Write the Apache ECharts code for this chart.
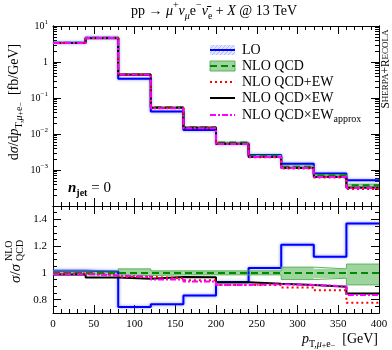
<!DOCTYPE html>
<html><head><meta charset="utf-8">
<script src="https://cdn.jsdelivr.net/npm/echarts@6/dist/echarts.min.js"></script>
<style>html,body{margin:0;padding:0;background:#fff}#c{width:392px;height:350px}</style>
</head><body><div id="c"></div>
<script>
// ---- data ----
const binEdges = [0, 40, 80, 120, 160, 200, 240, 280, 320, 360, 400];
// NLO QCD absolute [fb/GeV]
const nloQcd = [3.4, 4.7, 0.46, 0.055, 0.0155, 0.0058, 0.0025, 0.00124, 0.00071, 0.00038];
// NLO QCD uncertainty band (ratio to NLO QCD)
const nloQcdBandLo = [0.985, 0.985, 0.98, 0.985, 0.985, 0.985, 0.985, 0.95, 0.96, 0.91];
const nloQcdBandHi = [1.015, 1.015, 1.03, 1.015, 1.015, 1.015, 1.015, 1.043, 1.03, 1.066];
// ratios to NLO QCD
const ratioLO = [1.015, 1.01, 0.745, 0.765, 0.83, 0.93, 1.036, 1.21, 1.12, 1.37];
const ratioQcdPlusEw = [0.995, 0.985, 0.97, 0.96, 0.945, 0.91, 0.91, 0.89, 0.87, 0.776];
const ratioQcdTimesEw = [0.987, 0.966, 0.956, 0.97, 0.967, 0.93, 0.918, 0.91, 0.897, 0.845];
const ratioQcdTimesEwApprox = [0.99, 0.98, 0.972, 0.95, 0.935, 0.91, 0.915, 0.91, 0.90, 0.835];
// axis ticks
const logMajorTicks = [1e-4, 1e-3, 1e-2, 1e-1, 1, 10];
const logTickLabels = [10, 1, 0.1, 0.01, 0.001];
const ratioMajorTicks = [0.8, 1, 1.2, 1.4];
const ratioLabels = ['0.8', '1', '1.2', '1.4'];
const legendNames = ['LO', 'NLO QCD', 'NLO QCD+EW', 'NLO QCD×EW', 'NLO QCD×EW{sub|approx}'];

// ---- helpers ----
const FONT = 'Liberation Serif';
const logMinorTicks = [];
for (let d = -4; d <= 0; d++) for (let k = 2; k <= 9; k++) logMinorTicks.push(k * Math.pow(10, d));
const ratioMinorTicks = [];
for (let i = 14; i <= 30; i++) { const v = +(i * 0.05).toFixed(2); if (!ratioMajorTicks.some(m => Math.abs(m - v) < 1e-6)) ratioMinorTicks.push(v); }

function stepData(vals) {
  const d = vals.map((v, i) => [binEdges[i], v]);
  d.push([binEdges[binEdges.length - 1], vals[vals.length - 1]]);
  return d;
}
const times = (a, b) => a.map((v, i) => v * b[i]);
const ones = nloQcd.map(() => 1);

const C = { lo: '#0000ff', nlo: '#008a00', red: '#ff0000', blk: '#000000', mag: '#ff00ff', band: '#9ed49e', bandEdge: '#5fb35f' };

function xAx(grid, pos, labels) {
  return {
    type: 'value', gridIndex: grid, position: pos, min: 0, max: 400, interval: 50,
    axisLine: { show: true, onZero: false, lineStyle: { color: '#000', width: 1 } },
    axisTick: { show: true, inside: true, length: 8, lineStyle: { color: '#000' } },
    minorTick: { show: true, splitNumber: 5, length: 4, lineStyle: { color: '#000' } },
    splitLine: { show: false },
    axisLabel: labels ? { show: true, fontFamily: FONT, fontSize: 11, color: '#000', margin: 6 } : { show: false }
  };
}
function yLog(pos, ticks, len, labels) {
  return {
    type: 'log', logBase: 10, gridIndex: 0, position: pos, min: 1e-4, max: 10,
    axisLine: { show: true, onZero: false, lineStyle: { color: '#000', width: 1 } },
    axisTick: { show: true, inside: true, length: len, customValues: ticks, lineStyle: { color: '#000' } },
    splitLine: { show: false }, minorTick: { show: false },
    axisLabel: labels ? {
      show: true, customValues: logTickLabels, fontFamily: FONT, fontSize: 10, color: '#000', margin: 5,
      formatter: v => { const e = Math.round(Math.log10(v)); return e === 0 ? '{n|1}' : '{n|10}{sup|' + (e < 0 ? '−' + (-e) : e) + '}'; },
      rich: { n: { fontFamily: FONT, fontSize: 10, lineHeight: 14 }, sup: { fontFamily: FONT, fontSize: 7, lineHeight: 8, verticalAlign: 'top' } }
    } : { show: false }
  };
}
function yRat(pos, ticks, len, labels) {
  return {
    type: 'value', gridIndex: 1, position: pos, min: 0.7, max: 1.5,
    axisLine: { show: true, onZero: false, lineStyle: { color: '#000', width: 1 } },
    axisTick: { show: true, inside: true, length: len, customValues: ticks, lineStyle: { color: '#000' } },
    splitLine: { show: false }, minorTick: { show: false },
    axisLabel: labels ? {
      show: true, customValues: ratioMajorTicks, fontFamily: FONT, fontSize: 11, color: '#000', margin: 6,
      formatter: v => ratioLabels[ratioMajorTicks.findIndex(m => Math.abs(m - v) < 1e-6)] || ''
    } : { show: false }
  };
}

function stepLine(name, vals, xi, yi, color, width, dash, extra) {
  return Object.assign({
    name, type: 'line', xAxisIndex: xi, yAxisIndex: yi, data: stepData(vals), step: 'end',
    symbol: 'none', silent: true, animation: false,
    lineStyle: { color, width, type: dash || 'solid', cap: 'butt' }
  }, extra || {});
}
function bandSeries(lo, hi, xi, yi) {
  return {
    type: 'custom', xAxisIndex: xi, yAxisIndex: yi, silent: true, animation: false,
    data: lo.map((v, i) => [binEdges[i], binEdges[i + 1], v, hi[i]]),
    encode: { x: [0, 1], y: [2, 3] },
    renderItem: (params, api) => {
      const p0 = api.coord([api.value(0), api.value(3)]);
      const p1 = api.coord([api.value(1), api.value(2)]);
      return { type: 'rect', shape: { x: p0[0], y: p0[1], width: p1[0] - p0[0], height: p1[1] - p0[1] }, style: { fill: C.band } };
    }
  };
}
function panelSeries(base, xi, yi) {
  const lo = times(base, ratioLO), nlo = times(base, ones);
  return [
    stepLine('LO', lo, xi, yi, C.lo, 2, 'solid', { lineStyle: { color: C.lo, width: 2, shadowBlur: 3, shadowColor: 'rgba(110,130,255,0.9)' } }),
    bandSeries(times(base, nloQcdBandLo), times(base, nloQcdBandHi), xi, yi),
    stepLine('bandLo', times(base, nloQcdBandLo), xi, yi, C.bandEdge, 1),
    stepLine('bandHi', times(base, nloQcdBandHi), xi, yi, C.bandEdge, 1),
    stepLine('NLO QCD', nlo, xi, yi, C.nlo, 2, [7, 4]),
    stepLine('NLO QCD×EW', times(base, ratioQcdTimesEw), xi, yi, C.blk, 2),
    stepLine('NLO QCD+EW', times(base, ratioQcdPlusEw), xi, yi, C.red, 2, [2, 3]),
    stepLine('NLO QCD×EW approx', times(base, ratioQcdTimesEwApprox), xi, yi, C.mag, 2, [6, 2, 2, 2])
  ];
}

function mkRich(fs) {
  const s = Math.round(fs * 0.68);
  return {
    r: { fontFamily: FONT, fontSize: fs, lineHeight: fs + 7 },
    i: { fontFamily: FONT, fontSize: fs, lineHeight: fs + 7, fontStyle: 'italic' },
    sup: { fontFamily: FONT, fontSize: s, lineHeight: s + 2, verticalAlign: 'top' },
    sub: { fontFamily: FONT, fontSize: s, lineHeight: s + 2, verticalAlign: 'bottom' },
    isub: { fontFamily: FONT, fontSize: s, lineHeight: s + 2, verticalAlign: 'bottom', fontStyle: 'italic' },
    ssup: { fontFamily: FONT, fontSize: s - 2, lineHeight: fs + 4, verticalAlign: 'bottom' }
  };
}
function text(x, y, str, opt) {
  opt = opt || {};
  return {
    type: 'text', x, y, rotation: opt.rot || 0, z: 100, silent: true,
    style: { text: str, x: 0, y: 0, align: opt.align || 'center', verticalAlign: 'middle', fill: '#000', rich: opt.rich || mkRich(14), fontFamily: FONT, fontSize: 14 }
  };
}

// legend
const legX0 = 210, legX1 = 235, legTX = 242, legY = [50, 66, 82, 98, 115];
const legendRich = {
  r: { fontFamily: FONT, fontSize: 14, lineHeight: 18 },
  sub: { fontFamily: FONT, fontSize: 10, lineHeight: 11, verticalAlign: 'bottom' }
};
const hatch = [];
for (let k = -10; k < 25; k += 4) {
  hatch.push({ type: 'line', z: 99, silent: true, shape: { x1: legX0 + k, y1: legY[0] + 5, x2: legX0 + k + 10, y2: legY[0] - 5 }, style: { stroke: 'rgba(120,140,255,0.6)', lineWidth: 0.8 } });
}
const legendGraphics = [
  { type: 'rect', z: 98, silent: true, shape: { x: legX0, y: legY[0] - 5, width: legX1 - legX0, height: 10 }, style: { fill: 'rgba(200,205,255,0.5)' } },
  { type: 'group', z: 99, silent: true, clipPath: { type: 'rect', shape: { x: legX0, y: legY[0] - 5, width: legX1 - legX0, height: 10 } }, children: hatch },
  { type: 'line', z: 100, silent: true, shape: { x1: legX0, y1: legY[0], x2: legX1, y2: legY[0] }, style: { stroke: C.lo, lineWidth: 2 } },
  { type: 'rect', z: 98, silent: true, shape: { x: legX0, y: legY[1] - 5, width: legX1 - legX0, height: 10 }, style: { fill: C.band, stroke: C.bandEdge, lineWidth: 1 } },
  { type: 'line', z: 100, silent: true, shape: { x1: legX0, y1: legY[1], x2: legX1, y2: legY[1] }, style: { stroke: C.nlo, lineWidth: 2, lineDash: [7, 4] } },
  { type: 'line', z: 100, silent: true, shape: { x1: legX0, y1: legY[2], x2: legX1, y2: legY[2] }, style: { stroke: C.red, lineWidth: 2, lineDash: [2, 3] } },
  { type: 'line', z: 100, silent: true, shape: { x1: legX0, y1: legY[3], x2: legX1, y2: legY[3] }, style: { stroke: C.blk, lineWidth: 2 } },
  { type: 'line', z: 100, silent: true, shape: { x1: legX0, y1: legY[4], x2: legX1, y2: legY[4] }, style: { stroke: C.mag, lineWidth: 2, lineDash: [6, 2, 2, 2] } }
];
legendNames.forEach((n, i) => {
  const s = n.replace(/^([^{]+)/, '{r|$1}');
  legendGraphics.push(text(legTX, legY[i], s, { align: 'left', rich: legendRich }));
});

const scRich = {
  b: { fontFamily: FONT, fontSize: 11.5, lineHeight: 14 },
  s: { fontFamily: FONT, fontSize: 9, lineHeight: 14 }
};
const smallRich = { t: { fontFamily: FONT, fontSize: 10, lineHeight: 12 } };
const sigRich = { i: { fontFamily: FONT, fontSize: 15, lineHeight: 18, fontStyle: 'italic' }, r: { fontFamily: FONT, fontSize: 15, lineHeight: 18 } };

const graphics = legendGraphics.concat([
  text(214, 11, '{r|pp → }{i|μ}{sup|+}{i|ν}{isub|μ}{r|e}{sup|−}{i|ν̄}{sub|e}{r| + }{i|X}{r| @ 13 TeV}'),
  text(14, 102, '{r|d}{i|σ}{r|/d}{i|p}{sub|T,}{isub|μ}{ssup|+}{sub|e}{ssup|−}{r|  [fb/GeV]}', { rot: Math.PI / 2 }),
  // σ / σ^NLO_QCD with stacked super/subscript
  text(16, 283, '{i|σ}{r|/}{i|σ}', { rot: Math.PI / 2, align: 'left', rich: sigRich }),
  text(9, 261, '{t|NLO}', { rot: Math.PI / 2, align: 'left', rich: smallRich }),
  text(20, 261, '{t|QCD}', { rot: Math.PI / 2, align: 'left', rich: smallRich }),
  text(378, 339, '{i|p}{sub|T,}{isub|μ}{ssup|+}{sub|e}{ssup|−}{r|  [GeV]}', { align: 'right' }),
  text(386, 69, '{b|S}{s|HERPA}{b|+R}{s|ECOLA}', { rot: Math.PI / 2, rich: scRich }),
  text(68, 188, '{n|n}{j|jet}{e| = 0}', {
    align: 'left', rich: {
      n: { fontFamily: FONT, fontSize: 15, lineHeight: 20, fontStyle: 'italic', fontWeight: 'bold' },
      j: { fontFamily: FONT, fontSize: 10, lineHeight: 11, verticalAlign: 'bottom', fontWeight: 'bold' },
      e: { fontFamily: FONT, fontSize: 15, lineHeight: 20 }
    }
  })
]);

const chart = echarts.init(document.getElementById('c'), null, { renderer: 'canvas' });
chart.setOption({
  animation: false,
  backgroundColor: '#fff',
  grid: [
    { left: 53, right: 13, top: 26, height: 180 },
    { left: 53, right: 13, top: 206, height: 107 }
  ],
  xAxis: [xAx(0, 'bottom', false), xAx(0, 'top', false), xAx(1, 'bottom', true), xAx(1, 'top', false)],
  yAxis: [
    yLog('left', logMajorTicks, 8, true), yLog('left', logMinorTicks, 4, false),
    yLog('right', logMajorTicks, 8, false), yLog('right', logMinorTicks, 4, false),
    yRat('left', ratioMajorTicks, 8, true), yRat('left', ratioMinorTicks, 4, false),
    yRat('right', ratioMajorTicks, 8, false), yRat('right', ratioMinorTicks, 4, false)
  ],
  series: panelSeries(nloQcd, 0, 0).concat(panelSeries(ones, 2, 4)),
  graphic: graphics
});
</script></body></html>
